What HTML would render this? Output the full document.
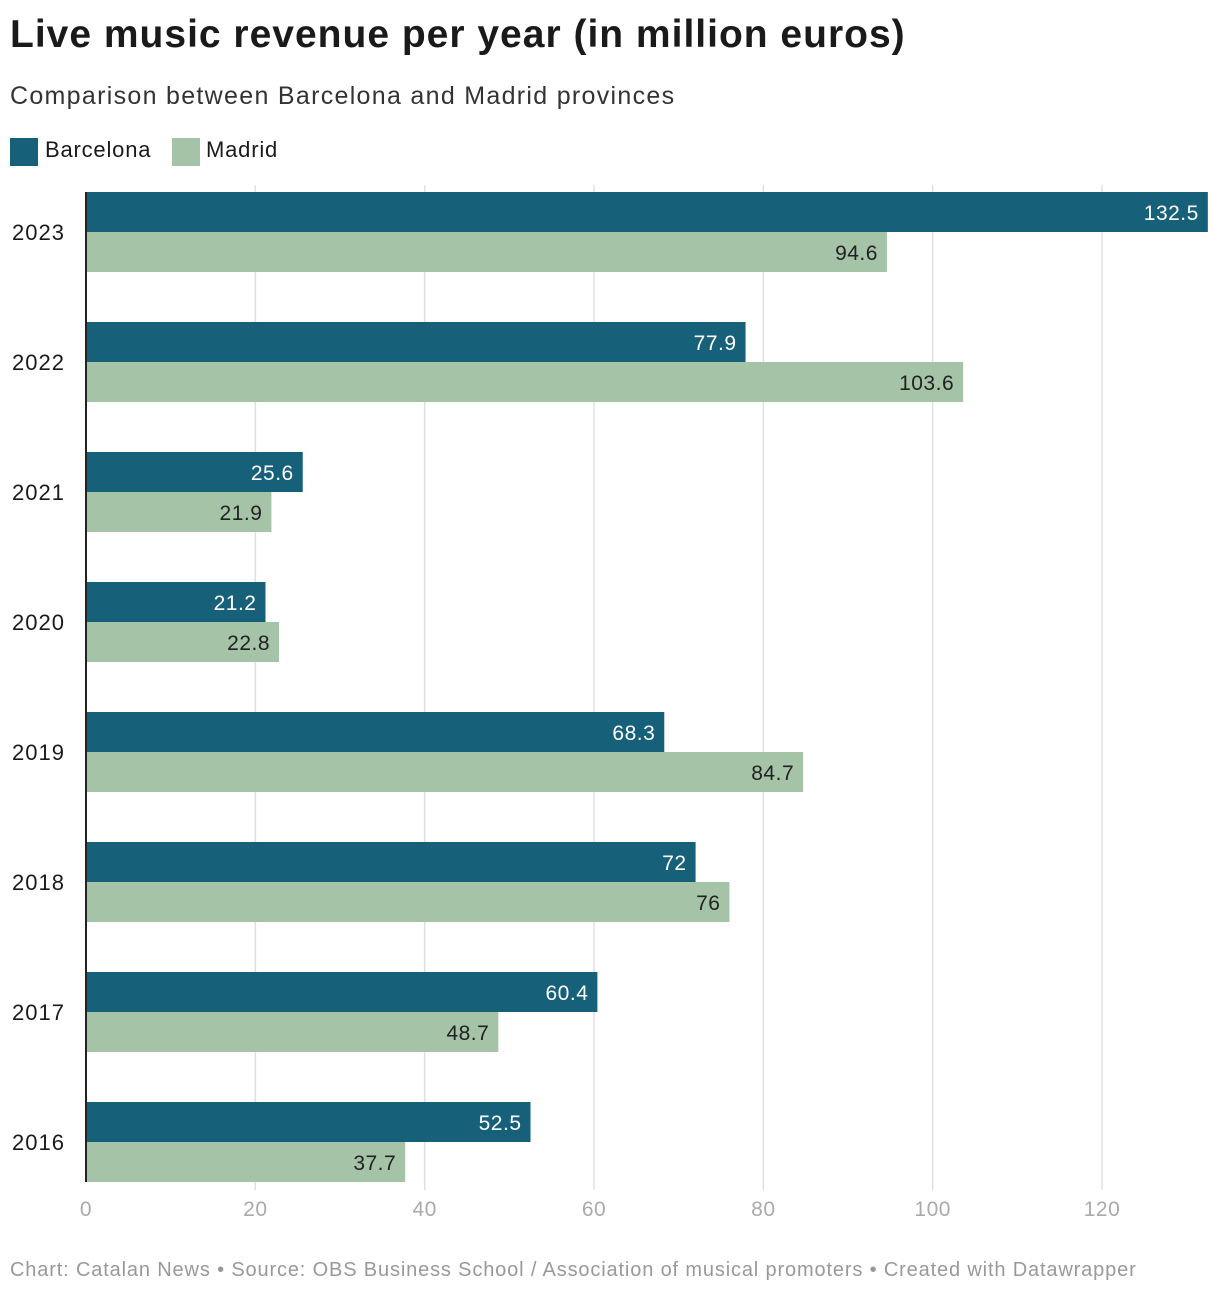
<!DOCTYPE html>
<html><head><meta charset="utf-8">
<style>
body{margin:0;width:1220px;height:1296px;background:#fff;font-family:"Liberation Sans",sans-serif;color:#1a1a1a;position:relative;overflow:hidden}
.t{position:absolute;white-space:nowrap}
</style></head>
<body>
<div class="t" style="left:10px;top:13px;font-size:39px;font-weight:bold;letter-spacing:1px">Live music revenue per year (in million euros)</div>
<div class="t" style="left:10px;top:82px;font-size:25px;color:#333;letter-spacing:1.3px">Comparison between Barcelona and Madrid provinces</div>
<div>
<div class="t" style="left:10px;top:138px;width:28px;height:28px;background:#17607a"></div>
<div class="t" style="left:45px;top:137px;font-size:22px;letter-spacing:0.8px">Barcelona</div>
<div class="t" style="left:172px;top:138px;width:28px;height:28px;background:#a5c3a7"></div>
<div class="t" style="left:206px;top:137px;font-size:22px;letter-spacing:0.8px">Madrid</div>
</div>
<svg id="chart" width="1220" height="1296" style="position:absolute;left:0;top:0" font-family="Liberation Sans, sans-serif"></svg>
<div class="t" style="left:10px;top:1259px;font-size:20px;color:#999;letter-spacing:0.85px">Chart: Catalan News • Source: OBS Business School / Association of musical promoters • Created with Datawrapper</div>
<script>
const years=["2023","2022","2021","2020","2019","2018","2017","2016"];
const barcelona=[132.5,77.9,25.6,21.2,68.3,72,60.4,52.5];
const madrid=[94.6,103.6,21.9,22.8,84.7,76,48.7,37.7];
const ticks=[0,20,40,60,80,100,120];
const svg=document.getElementById('chart');
const NS='http://www.w3.org/2000/svg';
const x0=86,scale=(1102-86)/120;
const x=v=>x0+v*scale;
const rowY=i=>192+i*130;
function mk(tag,attrs,parent){const e=document.createElementNS(NS,tag);for(const k in attrs)e.setAttribute(k,attrs[k]);(parent||svg).appendChild(e);return e;}
ticks.forEach(t=>{
  if(t>0){const g=mk('line',{x1:x(t),x2:x(t),y1:185,y2:1190,stroke:'#e0e0e0','stroke-width':1.5});
  
  }
  const l=mk('text',{x:x(t),y:1216,'text-anchor':'middle','font-size':21,fill:'#aaa','letter-spacing':0.5});
  l.textContent=t;
  
  
});
years.forEach((yr,i)=>{
  const y=rowY(i);
  const yl=mk('text',{x:12,y:y+48,'font-size':22,fill:'#1a1a1a','letter-spacing':1});
  yl.textContent=yr;
  
  
  [[barcelona[i],'#17607a','#fff','barcelona',0],[madrid[i],'#a5c3a7','#222','madrid',40]].forEach(([v,c,tc,n,off])=>{
    const r=mk('rect',{x:x0,y:y+off,width:x(v)-x0,height:40,fill:c});
    
    
    const tx=mk('text',{x:x(v)-9,y:y+off+28,'text-anchor':'end','font-size':21,fill:tc,'letter-spacing':0.5});
    tx.textContent=v;
    
    
  });
});
const ax=mk('line',{x1:86,x2:86,y1:192,y2:1182,stroke:'#222','stroke-width':2});


</script>
</body></html>
